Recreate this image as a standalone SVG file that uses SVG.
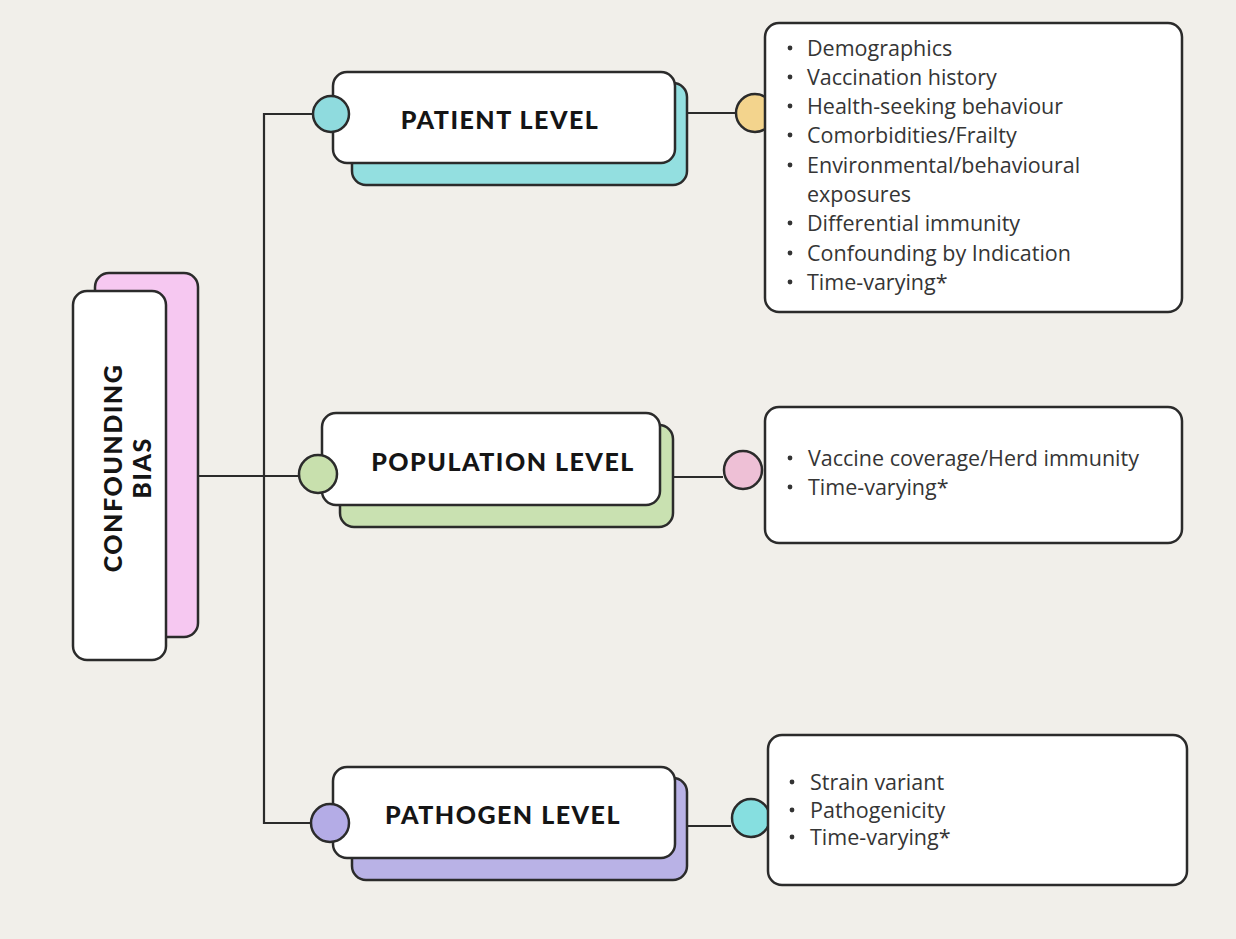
<svg xmlns="http://www.w3.org/2000/svg" width="1236" height="939" viewBox="0 0 1236 939">
<style>
.bk{stroke:#2b2b2b;stroke-width:2.5}
.wt{fill:#ffffff;stroke:#2b2b2b;stroke-width:2.5}
.ln{fill:none;stroke:#2b2b2b;stroke-width:2.2}
.hd{font-family:"Lato","DejaVu Sans",sans-serif;font-weight:900;font-size:25px;fill:#151515;letter-spacing:1.5px;text-anchor:middle}
.it{font-family:"Open Sans","Liberation Sans",sans-serif;font-size:21.5px;fill:#353535}
</style>
<rect x="0" y="0" width="1236" height="939" fill="#f1efea"/>
<g id="connectors">
<path class="ln" d="M198 476 H300"/>
<path class="ln" d="M313 114 H264 V823 H312"/>
<path class="ln" d="M675 113 H736"/>
<path class="ln" d="M673 477 H723"/>
<path class="ln" d="M687 826 H731"/>
</g>
<g id="confounding-bias">
<rect class="bk" x="95" y="273" width="103" height="364" rx="14" fill="#f6c8f1"/>
<rect class="wt" x="73" y="291" width="93" height="369" rx="14"/>
<text class="hd" transform="translate(122,468) rotate(-90)">CONFOUNDING</text>
<text class="hd" transform="translate(151,468) rotate(-90)">BIAS</text>
</g>
<g id="patient-level">
<rect class="bk" x="352" y="83" width="335" height="102" rx="14" fill="#93dfe0"/>
<rect class="wt" x="333" y="72" width="342" height="91" rx="14"/>
<circle class="bk" cx="331" cy="114" r="18" fill="#8fdbde"/>
<text class="hd" x="500" y="129">PATIENT LEVEL</text>
</g>
<g id="patient-items">
<circle class="bk" cx="755" cy="113" r="19" fill="#f3d48d"/>
<rect class="wt" x="765" y="23" width="417" height="289" rx="14"/>
<g class="it">
<text x="807" y="56">Demographics</text>
<text x="807" y="85">Vaccination history</text>
<text x="807" y="114">Health-seeking behaviour</text>
<text x="807" y="143">Comorbidities/Frailty</text>
<text x="807" y="173">Environmental/behavioural</text>
<text x="807" y="202">exposures</text>
<text x="807" y="231">Differential immunity</text>
<text x="807" y="261">Confounding by Indication</text>
<text x="807" y="290">Time-varying*</text>
</g>
<g fill="#333">
<circle cx="790" cy="48" r="2.4"/><circle cx="790" cy="77" r="2.4"/><circle cx="790" cy="106" r="2.4"/><circle cx="790" cy="135" r="2.4"/><circle cx="790" cy="165" r="2.4"/><circle cx="790" cy="223" r="2.4"/><circle cx="790" cy="253" r="2.4"/><circle cx="790" cy="282" r="2.4"/>
</g>
</g>
<g id="population-level">
<rect class="bk" x="340" y="425" width="333" height="102" rx="14" fill="#c9e1b1"/>
<rect class="wt" x="322" y="413" width="338" height="92" rx="14"/>
<circle class="bk" cx="318" cy="474" r="19" fill="#c8e0ad"/>
<text class="hd" x="503" y="471">POPULATION LEVEL</text>
</g>
<g id="population-items">
<circle class="bk" cx="743" cy="470" r="19" fill="#eec0d6"/>
<rect class="wt" x="765" y="407" width="417" height="136" rx="14"/>
<g class="it">
<text x="808" y="466">Vaccine coverage/Herd immunity</text>
<text x="808" y="495">Time-varying*</text>
</g>
<g fill="#333"><circle cx="790" cy="458" r="2.4"/><circle cx="790" cy="487" r="2.4"/></g>
</g>
<g id="pathogen-level">
<rect class="bk" x="352" y="778" width="335" height="102" rx="14" fill="#b9b2e6"/>
<rect class="wt" x="333" y="767" width="342" height="91" rx="14"/>
<circle class="bk" cx="330" cy="823" r="19" fill="#b4ace6"/>
<text class="hd" x="503" y="824">PATHOGEN LEVEL</text>
</g>
<g id="pathogen-items">
<circle class="bk" cx="751" cy="818" r="19" fill="#86dfe0"/>
<rect class="wt" x="768" y="735" width="419" height="150" rx="14"/>
<g class="it">
<text x="810" y="790">Strain variant</text>
<text x="810" y="818">Pathogenicity</text>
<text x="810" y="845">Time-varying*</text>
</g>
<g fill="#333"><circle cx="792" cy="782" r="2.4"/><circle cx="792" cy="810" r="2.4"/><circle cx="792" cy="837" r="2.4"/></g>
</g>
</svg>
